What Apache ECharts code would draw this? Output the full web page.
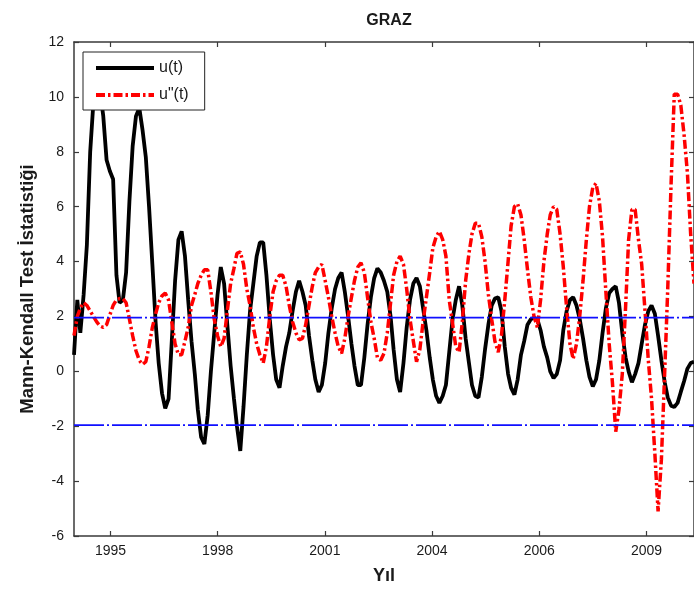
<!DOCTYPE html>
<html>
<head>
<meta charset="utf-8">
<script src="https://cdn.jsdelivr.net/npm/echarts@6/dist/echarts.min.js"></script>
<style>
html,body{margin:0;padding:0;background:#fff;}
#chart{width:694px;height:592px;}
</style>
</head>
<body>
<div id="chart"></div>
<script>
// ---- data ----
const startYear = 1995;
const startMonth = 1;
const uValues = [
0.6,2.6,1.4,2.8,4.6,8.0,9.8,10.4,10.2,9.3,7.7,7.3,
7.0,3.5,2.5,2.6,3.6,6.2,8.2,9.3,9.6,8.8,7.8,6.0,
3.9,1.75,0.3,-0.8,-1.35,-1.0,1.1,3.3,4.8,5.1,4.2,2.6,
1.1,-0.1,-1.4,-2.4,-2.65,-1.6,0.0,1.4,2.8,3.8,3.2,1.7,
0.2,-1.0,-2.0,-2.9,-1.3,0.6,2.2,3.2,4.2,4.7,4.7,3.5,
1.9,0.6,-0.3,-0.6,0.2,0.9,1.4,2.2,2.9,3.3,2.9,2.4,
1.3,0.4,-0.3,-0.75,-0.5,0.3,1.4,2.3,3.0,3.4,3.6,2.9,
2.0,1.0,0.2,-0.5,-0.5,0.5,1.7,2.7,3.4,3.75,3.6,3.3,
2.9,2.0,0.8,-0.3,-0.75,0.3,1.6,2.6,3.2,3.4,3.1,2.3,
1.5,0.5,-0.3,-0.9,-1.15,-0.9,-0.5,0.7,1.9,2.6,3.1,2.4,
1.2,0.3,-0.5,-0.9,-0.95,-0.2,0.8,1.7,2.4,2.65,2.7,2.2,
0.9,-0.1,-0.6,-0.85,-0.3,0.6,1.1,1.7,1.9,1.95,1.9,1.5,
0.9,0.5,0.0,-0.25,-0.1,0.4,1.5,2.2,2.6,2.7,2.4,1.9,
1.2,0.4,-0.2,-0.55,-0.3,0.4,1.4,2.3,2.85,3.0,3.1,2.5,
1.4,0.5,0.0,-0.4,-0.1,0.3,1.0,1.7,2.2,2.4,2.1,1.3,
0.4,-0.4,-0.95,-1.25,-1.3,-1.15,-0.75,-0.35,0.1,0.3,0.35
];
const u2Values = [
1.3,2.0,2.3,2.5,2.4,2.2,2.0,1.8,1.65,1.6,1.7,2.05,
2.4,2.6,2.65,2.65,2.5,1.9,1.3,0.75,0.4,0.25,0.35,0.9,
1.6,2.1,2.5,2.75,2.85,2.6,1.8,1.0,0.6,0.6,1.1,1.6,
2.4,2.8,3.2,3.5,3.7,3.7,2.9,1.9,1.3,0.9,1.2,2.2,
3.2,3.75,4.3,4.35,3.9,3.0,2.4,1.6,1.0,0.6,0.3,0.9,
2.0,2.9,3.3,3.5,3.5,3.1,2.4,1.8,1.4,1.15,1.2,1.7,
2.4,3.1,3.6,3.8,3.9,3.3,2.7,2.0,1.4,0.9,0.65,1.2,
2.0,2.7,3.3,3.8,3.95,3.6,2.7,1.8,1.2,0.5,0.4,0.65,
1.4,2.5,3.5,4.0,4.2,3.9,3.0,1.9,1.1,0.35,0.8,1.8,
2.7,3.6,4.5,4.9,5.1,4.8,4.2,2.6,1.75,0.9,0.7,1.8,
3.3,4.3,5.0,5.4,5.4,4.9,4.0,2.8,1.9,1.1,0.7,1.3,
2.6,4.0,5.3,6.0,6.1,5.7,4.8,3.7,2.7,2.0,1.6,2.6,
4.0,5.0,5.7,6.0,5.9,5.0,3.8,2.3,1.0,0.45,1.0,2.0,
3.3,4.8,6.0,6.7,6.85,6.2,4.9,2.9,1.0,-0.4,-2.2,-1.4,
-0.1,2.35,4.8,5.9,5.9,4.8,3.9,2.2,0.4,-1.0,-3.0,-5.1,
-3.2,0.0,3.0,6.8,10.1,10.1,9.7,8.6,7.2,5.0,3.2
];
const limitValues = [1.96, -1.96];
const xTickValues = [729000, 730000, 731000, 732000, 733000, 734000]; // MATLAB datenums
const xTickLabels = ['1995', '1998', '2001', '2004', '2006', '2009'];
const yMin = -6, yMax = 12, yStep = 2;

// ---- build ----
function toDatenum(y, m) { return Date.UTC(y, m - 1, 1) / 86400000 + 719529; }
const dates = uValues.map((_, i) => {
  const k = startMonth - 1 + i;
  return toDatenum(startYear + Math.floor(k / 12), (k % 12) + 1);
});
const xStart = dates[0], xEnd = dates[dates.length - 1];
const uData = uValues.map((v, i) => [dates[i], v]);
const u2Data = u2Values.map((v, i) => [dates[i], v]);

const FONT = 'Liberation Sans, Arial, sans-serif';
const axisCol = '#3a3a3a';
const txtCol = '#1a1a1a';

const chart = echarts.init(document.getElementById('chart'), null, {renderer: 'canvas'});
chart.setOption({
  animation: false,
  backgroundColor: '#fff',
  title: {
    text: 'GRAZ', left: 384, top: 8, textAlign: 'center',
    textStyle: {fontFamily: FONT, fontSize: 16, fontWeight: 'bold', color: txtCol}
  },
  grid: {left: 74, right: 0, top: 42, bottom: 56, show: false},
  legend: {
    data: ['u(t)', 'u"(t)'],
    orient: 'vertical', left: 83, top: 52,
    backgroundColor: '#fff', borderColor: '#222', borderWidth: 1,
    padding: [8, 16, 7, 11], itemGap: 11, itemWidth: 58, itemHeight: 14,
    itemStyle: {opacity: 0},
    lineStyle: {width: 4},
    textStyle: {fontFamily: FONT, fontSize: 16, color: txtCol}
  },
  xAxis: [{
    type: 'value', min: xStart, max: xEnd, position: 'bottom',
    name: 'Yıl', nameLocation: 'middle', nameGap: 31,
    nameTextStyle: {fontFamily: FONT, fontSize: 18, fontWeight: 'bold', color: txtCol},
    axisLine: {show: true, onZero: false, lineStyle: {color: axisCol, width: 1.5}},
    axisTick: {show: true, inside: true, length: 5, customValues: xTickValues, lineStyle: {color: axisCol, width: 1.2}},
    axisLabel: {customValues: xTickValues, margin: 8, fontFamily: FONT, fontSize: 14, color: txtCol,
      formatter: v => xTickLabels[xTickValues.indexOf(v)] || ''},
    splitLine: {show: false}
  }, {
    type: 'value', min: xStart, max: xEnd, position: 'top',
    axisLine: {show: true, onZero: false, lineStyle: {color: axisCol, width: 1.5}},
    axisTick: {show: true, inside: true, length: 5, customValues: xTickValues, lineStyle: {color: axisCol, width: 1.2}},
    axisLabel: {show: false}, splitLine: {show: false}
  }],
  yAxis: [{
    type: 'value', min: yMin, max: yMax, interval: yStep, position: 'left',
    name: 'Mann-Kendall Test İstatistiği', nameLocation: 'middle', nameGap: 37,
    nameTextStyle: {fontFamily: FONT, fontSize: 18.5, fontWeight: 'bold', color: txtCol},
    axisLine: {show: true, onZero: false, lineStyle: {color: axisCol, width: 1.5}},
    axisTick: {show: true, inside: true, length: 5, lineStyle: {color: axisCol, width: 1.2}},
    axisLabel: {margin: 10, fontFamily: FONT, fontSize: 14, color: txtCol},
    splitLine: {show: false}
  }, {
    type: 'value', min: yMin, max: yMax, interval: yStep, position: 'right',
    axisLine: {show: true, onZero: false, lineStyle: {color: axisCol, width: 1.5}},
    axisTick: {show: true, inside: true, length: 5, lineStyle: {color: axisCol, width: 1.2}},
    axisLabel: {show: false}, splitLine: {show: false}
  }],
  series: [{
    name: 'u(t)', type: 'line', data: uData, showSymbol: false, symbol: 'none',
    lineStyle: {color: '#000', width: 3.8}, itemStyle: {color: '#000'}, z: 3
  }, {
    name: 'u"(t)', type: 'line', data: u2Data, showSymbol: false, symbol: 'none',
    lineStyle: {color: '#ff0000', width: 3.5, type: [9, 3, 2.5, 3]}, itemStyle: {color: '#ff0000'}, z: 4
  }].concat(limitValues.map((lv, k) => ({
    name: 'limit' + k, type: 'line', data: [[xStart, lv], [xEnd, lv]],
    showSymbol: false, symbol: 'none', silent: true,
    lineStyle: {color: '#1010ff', width: 1.8, type: [30, 3, 2, 3]}, z: 5
  })))
});
</script>
</body>
</html>
